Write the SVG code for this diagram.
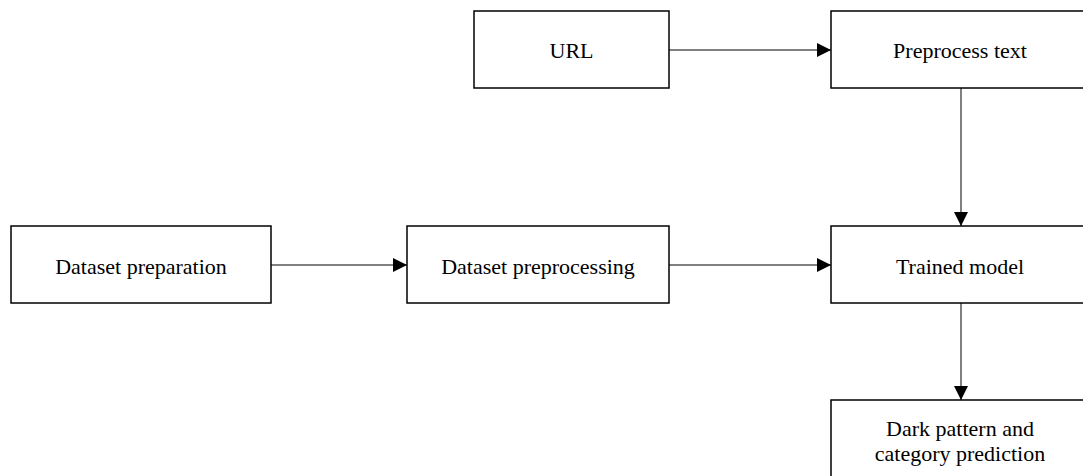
<svg xmlns="http://www.w3.org/2000/svg" width="1083" height="476" viewBox="0 0 1083 476">
<style>
.box{fill:#fff;stroke:#000;stroke-width:1.5}
.lbl{font-family:"Liberation Serif","Times New Roman",serif;font-size:22px;fill:#000;text-anchor:middle}
.edge{stroke:#000;stroke-width:1;fill:none;marker-end:url(#arr)}
</style>
<defs>
<marker id="arr" viewBox="0 0 14 14" refX="14" refY="7" markerWidth="14" markerHeight="14" markerUnits="userSpaceOnUse" orient="auto">
<path d="M0,0 L14,7 L0,14 Z" fill="#000"/>
</marker>
</defs>
<rect width="1083" height="476" fill="#fff"/>
<g id="connectors">
<line class="edge" x1="669" y1="50" x2="831" y2="50"/>
<line class="edge" x1="961" y1="88" x2="961" y2="226"/>
<line class="edge" x1="271" y1="265" x2="407" y2="265"/>
<line class="edge" x1="669" y1="265" x2="831" y2="265"/>
<line class="edge" x1="961" y1="303" x2="961" y2="400"/>
</g>
<g id="url"><rect class="box" x="474" y="11" width="195" height="77"/><text class="lbl" x="571.5" y="58">URL</text></g>
<g id="preprocess-text"><rect class="box" x="831" y="11" width="260" height="77"/><text class="lbl" x="960" y="58">Preprocess text</text></g>
<g id="dataset-preparation"><rect class="box" x="11" y="226" width="260" height="77"/><text class="lbl" x="141" y="274">Dataset preparation</text></g>
<g id="dataset-preprocessing"><rect class="box" x="407" y="226" width="262" height="77"/><text class="lbl" x="538" y="274">Dataset preprocessing</text></g>
<g id="trained-model"><rect class="box" x="831" y="226" width="260" height="77"/><text class="lbl" x="960" y="274">Trained model</text></g>
<g id="dark-pattern"><rect class="box" x="831" y="400" width="260" height="90"/><text class="lbl" x="960" y="436">Dark pattern and</text><text class="lbl" x="960" y="461">category prediction</text></g>
</svg>
